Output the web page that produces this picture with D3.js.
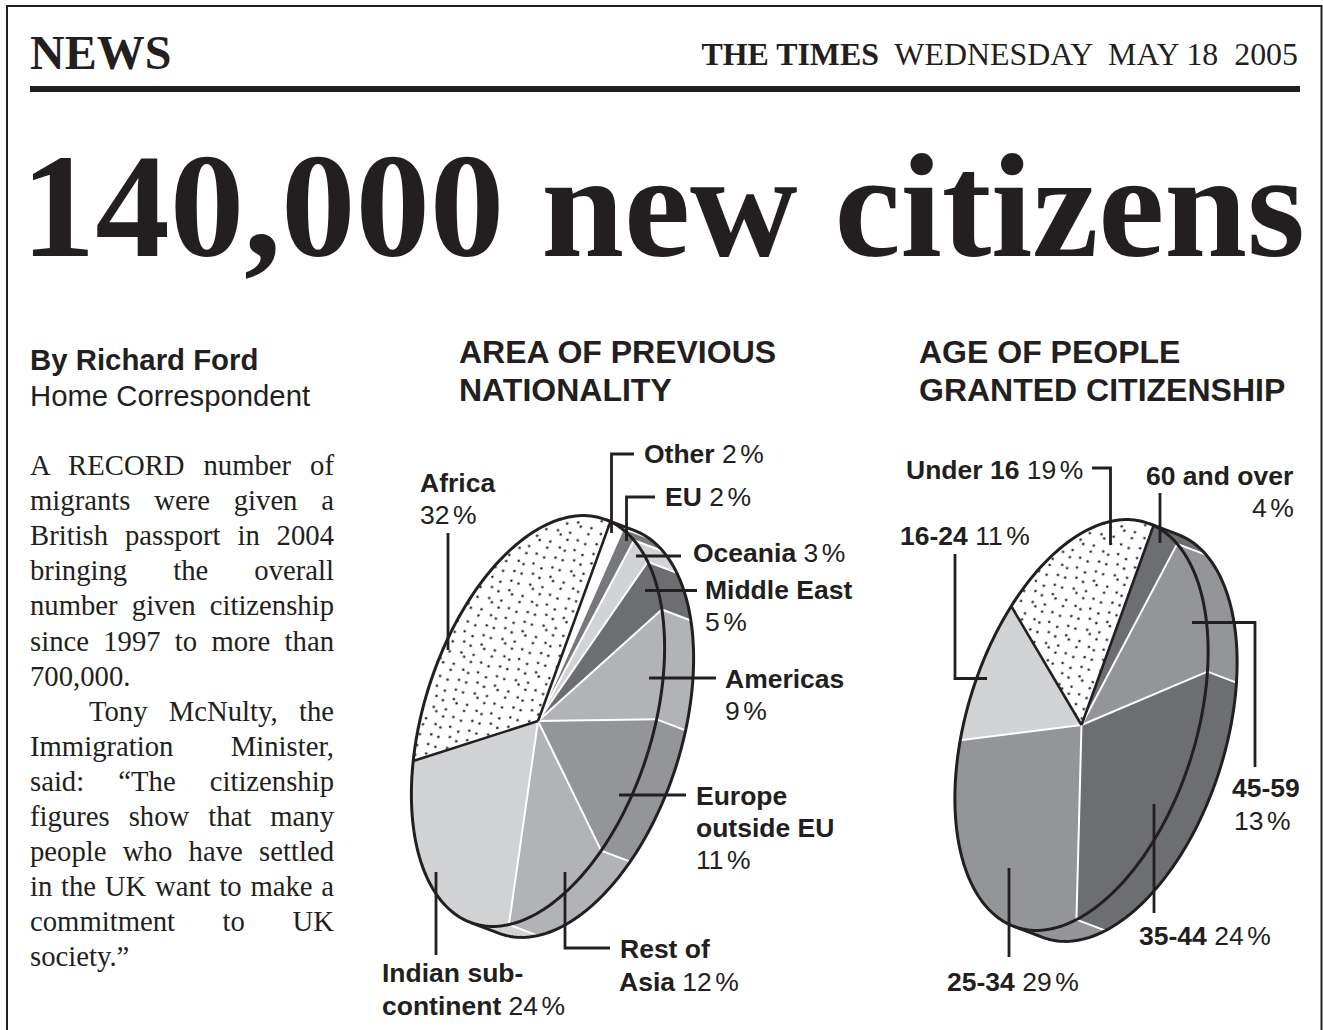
<!DOCTYPE html>
<html><head><meta charset="utf-8">
<style>html,body{margin:0;padding:0;background:#fff}svg{display:block}</style>
<script src="https://cdn.jsdelivr.net/npm/d3@7"></script></head>
<body><svg id="c" width="1323" height="1030"></svg>
<script>
// ---- data ----
const areaCategories = ["Other","EU","Oceania","Middle East","Americas","Europe outside EU","Rest of Asia","Indian sub-continent","Africa"];
const areaValues = [2,2,3,5,9,11,12,24,32];
const ageCategories = ["60 and over","45-59","35-44","25-34","16-24","Under 16"];
const ageValues = [4,13,24,29,11,19];
const areaFills = ["#fff","#77787b","#d1d3d4","#6d6e71","#b1b3b6","#939598","#b1b3b6","#d1d3d4","url(#stip)"];
const ageFills = ["#6d6e71","#939598","#6d6e71","#939598","#d1d3d4","url(#stip)"];
const bodyLines = [
 ["A RECORD number of",1],["migrants were given a",1],["British passport in 2004",1],["bringing the overall",1],
 ["number given citizenship",1],["since 1997 to more than",1],["700,000.",0],
 ["Tony McNulty, the",1,1],["Immigration Minister,",1],["said: “The citizenship",1],["figures show that many",1],
 ["people who have settled",1],["in the UK want to make a",1],["commitment to UK",1],["society.”",0]];
const ink = "#231f20";
const SERIF = "'Liberation Serif',serif", SANS = "'Liberation Sans',sans-serif";
const svg = d3.select("#c");
const defs = svg.append("defs");

// stipple texture
const stipple = [[2,3],[12,1],[20,5],[30,2],[6,11],[16,9],[26,12],[34,8],[1,18],[11,16],[20,19],[29,16],[6,24],[15,26],[25,23],[34,26],[2,31],[11,33],[20,30],[29,34]];
const pat = defs.append("pattern").attr("id","stip").attr("patternUnits","userSpaceOnUse").attr("width",36).attr("height",36).attr("patternTransform","rotate(-18) scale(1.2)");
pat.append("rect").attr("width",36).attr("height",36).attr("fill","#fff");
pat.selectAll("circle").data(stipple).join("circle").attr("cx",d=>d[0]).attr("cy",d=>d[1]).attr("r",1.05).attr("fill",ink);

// frame & header
svg.append("path").attr("d","M7 1030V6H1321.5V1030").attr("fill","none").attr("stroke",ink).attr("stroke-width",2);
const T = (x,y,s,fam,size,w,anchor)=>svg.append("text").attr("x",x).attr("y",y).text(s).attr("font-family",fam).attr("font-size",size).attr("font-weight",w||"normal").attr("text-anchor",anchor||"start").attr("fill",ink);
T(30,69,"NEWS",SERIF,48,"bold");
const dl = svg.append("text").attr("x",1298).attr("y",65).attr("text-anchor","end").attr("font-family",SERIF).attr("font-size",31.9).attr("fill",ink).attr("xml:space","preserve");
dl.append("tspan").attr("font-weight","bold").text("THE TIMES");
dl.append("tspan").text("  WEDNESDAY  MAY 18  2005");
svg.append("rect").attr("x",30).attr("y",86).attr("width",1270).attr("height",6).attr("fill",ink);
T(21,256,"140,000 new citizens",SERIF,149,"bold").attr("textLength",1284);

// byline + body
T(30,370,"By Richard Ford",SANS,26*227/201,"bold");
T(30,406,"Home Correspondent",SANS,27*280/258);
const colL=30,colR=334;
bodyLines.forEach((l,i)=>{
  const y=475+i*35.1, x=l[2]?colL+59:colL;
  const t=T(x,y,l[0],SERIF,28.7);
  if(l[1]){const n=l[0].split(" ").length-1, w=t.node().getComputedTextLength();
    t.attr("word-spacing",(colR-x-w)/n);}
});

// titles
[[459,"AREA OF PREVIOUS",363],[459,"NATIONALITY",401],[919,"AGE OF PEOPLE",363],[919,"GRANTED CITIZENSHIP",401]].forEach(d=>T(d[0],d[2],d[1],SANS,32,"bold"));

// pies
const RX=114.3, RY=212.5, TILT=17.7, DX=29, DY=11, OUT=3;
function drawPie(cx,cy,vals,fills,startDeg,blackEdges){
  const a0=startDeg*Math.PI/180;
  const arcs=d3.pie().sort(null).startAngle(a0).endAngle(a0+2*Math.PI)(vals);
  const rad=TILT*Math.PI/180;
  const proj=a=>{const u=Math.sin(a)*RX,v=-Math.cos(a)*RY;return [u*Math.cos(rad)-v*Math.sin(rad),u*Math.sin(rad)+v*Math.cos(rad)];};
  const sweep=(a,b,n)=>d3.range(0,n+1).map(k=>proj(a+(b-a)*k/n));
  const g=svg.append("g").attr("transform",`translate(${cx},${cy})`);
  const line=d3.line();
  const ring=sweep(0,2*Math.PI,240);
  // rim segments
  arcs.forEach((d,i)=>{
    const pts=sweep(d.startAngle,d.endAngle,40);
    const poly=pts.concat(pts.slice().reverse().map(p=>[p[0]+DX,p[1]+DY]));
    const f=fills[i].startsWith("url")?"#fff":fills[i];
    g.append("path").attr("d",line(poly)+"Z").attr("fill",f).attr("stroke",f).attr("stroke-width",.4);
  });
  // rim dividers (front side only)
  arcs.forEach(d=>{
    const p=proj(d.startAngle), t=d.startAngle;
    if(t>0.2 && t<Math.PI*1.1)
      g.append("line").attr("x1",p[0]).attr("y1",p[1]).attr("x2",p[0]+DX).attr("y2",p[1]+DY).attr("stroke","#fff").attr("stroke-width",2);
  });
  // rear silhouette, between the two tangent points of the extrusion
  const t0=1.7*Math.PI/180, t1=t0+Math.PI;
  const edge=[proj(t0)].concat(sweep(t0,t1,120).map(p=>[p[0]+DX,p[1]+DY]),[proj(t1)]);
  g.append("path").attr("d",line(edge)).attr("fill","none").attr("stroke",ink).attr("stroke-width",OUT).attr("stroke-linejoin","round");
  // face slices
  arcs.forEach((d,i)=>{
    g.append("path").attr("d",line([[0,0]].concat(sweep(d.startAngle,d.endAngle,60)))+"Z").attr("fill",fills[i]);
  });
  // separators: white, black around the stippled slice
  const seps=g.append("g");
  arcs.forEach((d,i)=>{const p=proj(d.startAngle);
    const black=blackEdges.includes(i);
    seps.append("line").datum(black).attr("x1",0).attr("y1",0).attr("x2",p[0]).attr("y2",p[1]).attr("stroke",black?ink:"#fff").attr("stroke-width",black?2.6:2);
  });
  seps.selectAll("line").filter(d=>d).raise();
  g.append("path").attr("d",line(ring)+"Z").attr("fill","none").attr("stroke",ink).attr("stroke-width",OUT);
}
// indices are the slices whose start edge is black (both sides of the stippled one)
drawPie(538,721,areaValues,areaFills,4.2,[0,8]);
drawPie(1081.5,725,ageValues,ageFills,4,[0,5]);

// leader lines
const leaders=["M634 454H611.5V533","M655 497H626.5V541","M636 556H681","M645 590.5H697","M649 678H716","M619 795H686","M565 872V948H610","M436 872V955","M448 533V650",
 "M1092 468H1110.5V545","M1160 493V543","M955 554V678.5H987","M1192 622.5H1255V767","M1154 804V913","M1009 868V957"];
svg.append("g").selectAll("path").data(leaders).join("path").attr("d",d=>d).attr("fill","none").attr("stroke",ink).attr("stroke-width",2.8);

// labels: [x, y, bold, regular]
const labels=[
 [644,463,"Other","2 %"],[665,506,"EU","2 %"],[693,562,"Oceania","3 %"],[705,599,"Middle East",""],[705,631,"","5 %"],
 [725,688,"Americas",""],[725,720,"","9 %"],[696,805,"Europe",""],[696,837,"outside EU",""],[696,869,"","11 %"],
 [620,958,"Rest of",""],[619,991,"Asia","12 %"],[382,982,"Indian sub-",""],[382,1015,"continent","24 %"],
 [420,492,"Africa",""],[420,524,"","32 %"],
 [906,479,"Under 16","19 %"],[1146,485,"60 and over",""],[1252,517,"","4 %"],[900,545,"16-24","11 %"],
 [1232,797,"45-59",""],[1234,830,"","13 %"],[1139,945,"35-44","24 %"],[947,991,"25-34","29 %"]];
labels.forEach(l=>{
  const t=svg.append("text").attr("x",l[0]).attr("y",l[1]).attr("font-family",SANS).attr("font-size",26.5).attr("fill",ink);
  if(l[2]) t.append("tspan").attr("font-weight","bold").text(l[2]+(l[3]?" ":""));
  if(l[3]){const [n,p]=l[3].split(" ");
    t.append("tspan").text(n);
    t.append("tspan").attr("dx",3.5).text(p);}
});
</script></body></html>
